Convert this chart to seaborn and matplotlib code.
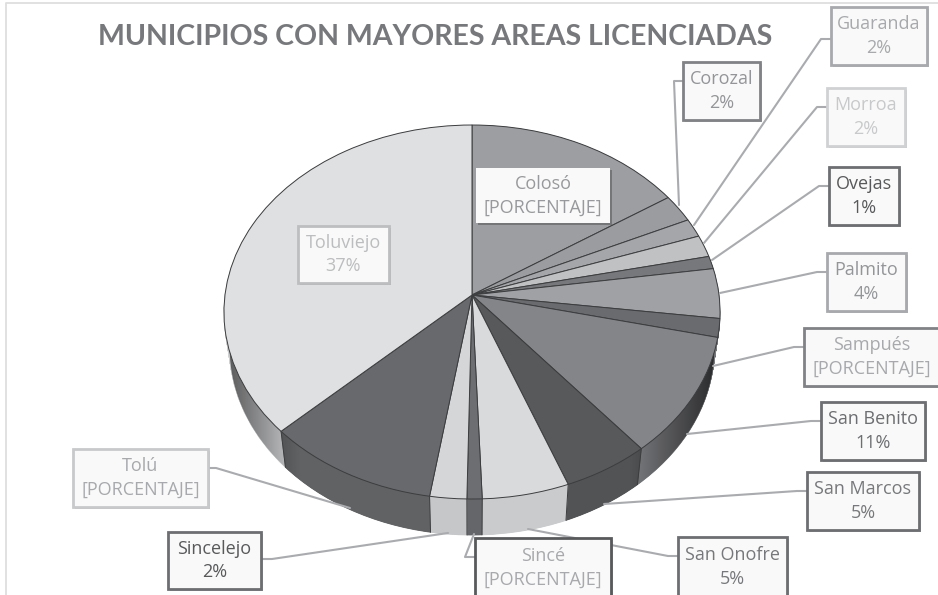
import numpy as np
import matplotlib
matplotlib.use('Agg')
import matplotlib.pyplot as plt
import matplotlib.patheffects as pe
import matplotlib.transforms as mtransforms
from matplotlib.patches import Rectangle, PathPatch
from matplotlib.path import Path
import seaborn as sns

municipios = ['Colosó', 'Corozal', 'Guaranda', 'Morroa', 'Ovejas', 'Palmito', 'Sampués',
              'San Benito', 'San Marcos', 'San Onofre', 'Sincé', 'Sincelejo', 'Tolú', 'Toluviejo']
areas = [15.7, 2.4, 1.6, 1.9, 1.1, 4.3, 1.6, 10.4, 5.2, 5.2, 0.9, 2.2, 10.4, 37.1]
etiquetas = ['[PORCENTAJE]', '2%', '2%', '2%', '1%', '4%', '[PORCENTAJE]',
             '11%', '5%', '5%', '[PORCENTAJE]', '2%', '[PORCENTAJE]', '37%']
colores = ['#9d9ea1', '#9b9c9f', '#a5a6a9', '#c0c1c3', '#77787b', '#a0a1a4', '#6a6b6e',
           '#848589', '#58595b', '#d9dadb', '#6d6e71', '#d5d6d8', '#68696c', '#dfe0e2']

titulo = 'MUNICIPIOS CON MAYORES AREAS LICENCIADAS'

# layout in pixels of the 938x595 picture
CX, CY = 472, 295
RX, RY, K = 247, 185.45, 0.0909
DEPTH = 36

# box x0, y0, x1, y1, edge colour, text colour, edge width
cajas = {
    'Colosó': (476, 168, 610, 223, '#f9f9f9', '#98999c', 0),
    'Corozal': (683, 62, 760, 120, '#808285', '#939598', 2),
    'Guaranda': (831, 7, 927, 65, '#a7a9ac', '#a7a9ac', 2),
    'Morroa': (827, 88, 905, 146, '#d0d1d3', '#c8c9cb', 2),
    'Ovejas': (829, 167, 899, 225, '#6d6e71', '#58595b', 2),
    'Palmito': (827, 253, 906, 311, '#a7a9ac', '#939598', 2),
    'Sampués': (804, 328, 940, 386, '#808285', '#a7a9ac', 2),
    'San Benito': (821, 402, 925, 460, '#6d6e71', '#6d6e71', 2),
    'San Marcos': (807, 472, 919, 530, '#6d6e71', '#77787b', 2),
    'San Onofre': (678, 537, 787, 597, '#6d6e71', '#77787b', 2),
    'Sincé': (475, 538, 611, 597, '#58595b', '#a7a9ac', 2),
    'Sincelejo': (168, 532, 261, 589, '#6d6e71', '#58595b', 2),
    'Tolú': (73, 449, 208, 507, '#c8c9cb', '#a7a9ac', 2),
    'Toluviejo': (298, 226, 389, 283, '#bdbec0', '#bcbdbf', 2),
}

guias = [
    ([683, 674, 679], [81, 81, 205]),
    ([831, 821, 694], [39, 39, 225]),
    ([827, 817, 704], [107, 107, 243]),
    ([829, 819, 712], [186, 186, 260]),
    ([827, 817, 720], [272, 272, 293]),
    ([804, 794, 713], [347, 347, 366]),
    ([821, 811, 687], [421, 421, 434]),
    ([807, 797, 604], [491, 491, 504]),
    ([678, 668, 528], [556, 556, 529]),
    ([475, 465, 474], [557, 557, 534]),
    ([261, 272, 448], [559, 559, 533]),
    ([208, 216, 350], [468, 468, 508]),
]


class Perspectiva(mtransforms.Transform):
    # tilts the flat pie, lines through the centre stay straight
    input_dims = 2
    output_dims = 2

    def __init__(self, bajada=0):
        super().__init__()
        self.bajada = bajada

    def transform_non_affine(self, values):
        values = np.asarray(values, dtype=float)
        w = 1 + K * values[:, 1]
        s = 1 - 0.023 * self.bajada / DEPTH
        x = CX + RX * s * values[:, 0] / w
        y = CY - RY * values[:, 1] / w + self.bajada
        return np.column_stack([x, y])


def oscurecer(color, factor):
    r, g, b = matplotlib.colors.to_rgb(color)
    return (r * factor, g * factor, b * factor)


def dibujar_costado(ax, palette):
    side = [oscurecer(c, 0.93) for c in palette]
    for bajada in np.arange(DEPTH, 0, -0.5):
        wedges, _ = ax.pie(areas, colors=side, startangle=90, counterclock=False,
                           wedgeprops={'linewidth': 0.6})
        for w, c in zip(wedges, side):
            w.set_edgecolor(c)
            w.set_transform(Perspectiva(bajada) + ax.transData)

    # shading towards both ends of the rim
    t = np.linspace(0, np.pi, 100)
    arriba = Perspectiva(0).transform_non_affine(np.column_stack([np.cos(t), np.sin(t)]))
    abajo = Perspectiva(DEPTH).transform_non_affine(np.column_stack([np.cos(t + np.pi), np.sin(t + np.pi)]))
    contorno = Path(np.vstack([arriba, abajo, arriba[:1]]))
    clip = PathPatch(contorno, transform=ax.transData, facecolor='none', edgecolor='none')
    ax.add_patch(clip)

    xs = np.linspace(226, 722, 500)
    alpha = np.clip((300 - xs) / 70, 0, 1) * 0.55 + np.clip((xs - 630) / 85, 0, 1) * 0.65
    rgba = np.zeros((1, xs.size, 4))
    rgba[0, :, 3] = alpha
    im = ax.imshow(rgba, extent=(226, 722, 545, 300), aspect='auto', zorder=1.5)
    im.set_clip_path(clip)

    # dark lines between slices on the front of the rim
    angulos = np.radians(90 - 3.6 * np.cumsum(areas))
    for a in angulos:
        punto = np.array([[np.cos(a), np.sin(a)]])
        if punto[0, 1] > -0.35:
            continue
        p0 = Perspectiva(0).transform_non_affine(punto)[0]
        p1 = Perspectiva(DEPTH).transform_non_affine(punto)[0]
        ax.plot([p0[0], p1[0]], [p0[1], p1[1]], color='#3c3d3f', lw=0.7, zorder=1.6)


def dibujar_etiquetas(ax):
    for xs, ys in guias:
        ax.plot(xs, ys, color='#a9abae', lw=1.5, zorder=3, solid_joinstyle='round')
    sombra = [pe.SimplePatchShadow(offset=(1.5, -1.5), shadow_rgbFace='#000000', alpha=0.25), pe.Normal()]
    for nombre, etiqueta in zip(municipios, etiquetas):
        if nombre not in cajas:
            continue
        x0, y0, x1, y1, borde, texto, lw = cajas[nombre]
        caja = Rectangle((x0, y0), x1 - x0, y1 - y0, facecolor='#f9f9f9', edgecolor=borde,
                         linewidth=lw, zorder=4, path_effects=sombra)
        ax.add_patch(caja)
        ax.text((x0 + x1) / 2, (y0 + y1) / 2, nombre + '\n' + etiqueta, ha='center', va='center',
                color=texto, fontsize=13, family=['Open Sans', 'DejaVu Sans'], linespacing=1.4, zorder=5)


def main():
    sns.set_theme(style='white')
    plt.rcParams['font.family'] = ['Lato', 'DejaVu Sans']
    palette = sns.color_palette(colores)

    fig = plt.figure(figsize=(9.38, 5.95), dpi=100)
    ax = fig.add_axes([0, 0, 1, 1])

    dibujar_costado(ax, palette)

    wedges, _ = ax.pie(areas, colors=palette, startangle=90, counterclock=False,
                       wedgeprops={'edgecolor': '#3c3d3f', 'linewidth': 0.7})
    for w in wedges:
        w.set_transform(Perspectiva(0) + ax.transData)
        w.set_zorder(2)

    ax.set_aspect('auto')
    ax.set_xlim(0, 938)
    ax.set_ylim(595, 0)
    ax.axis('off')

    ax.plot([6, 6, 938], [595, 3, 3], color='#dedede', lw=1.3, zorder=0)
    ax.text(435.5, 37, titulo, ha='center', va='center', color='#77787b',
            fontsize=20.5, fontweight='bold')
    dibujar_etiquetas(ax)

    plt.savefig('out.png', dpi=100)
    plt.close()


if __name__ == '__main__':
    main()
